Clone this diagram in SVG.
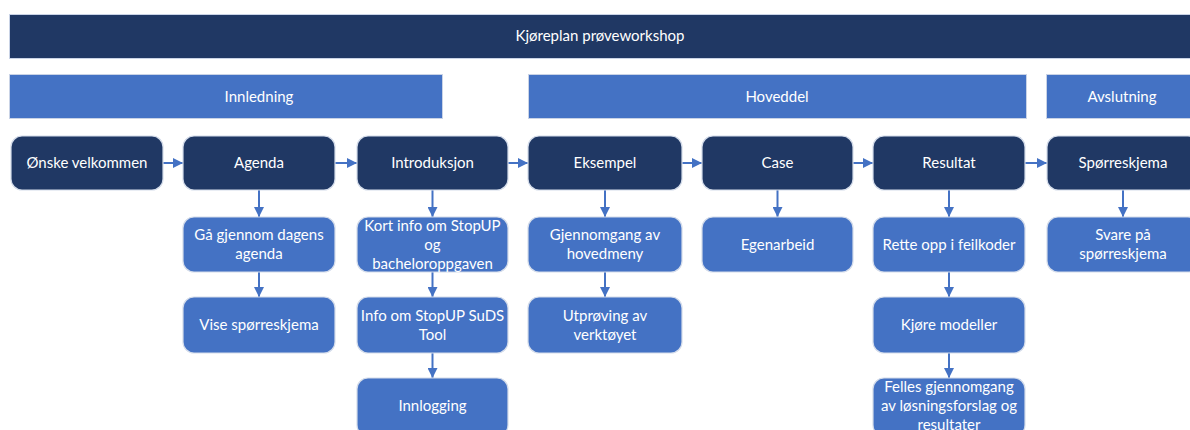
<svg xmlns="http://www.w3.org/2000/svg" width="1190" height="430" viewBox="0 0 1190 430">
<style>
  text { font-family: Lato, "Open Sans", "Liberation Sans", sans-serif; font-size: 15px; fill: #ffffff; text-anchor: middle; }
  .band { fill: #203864; stroke: #c9d3e6; stroke-width: 1; }
  .sec { fill: #4472c4; stroke: #c9d3e6; stroke-width: 1; }
  .dark { fill: #203864; stroke: #d4dcea; stroke-width: 1.2; }
  .light { fill: #4472c4; stroke: #d4dcea; stroke-width: 1.2; }
  .conn { stroke: #4472c4; stroke-width: 2; fill: none; marker-end: url(#arr); }
</style>
<defs>
  <marker id="arr" markerWidth="10" markerHeight="10" refX="10" refY="5" orient="auto" markerUnits="userSpaceOnUse">
    <path d="M0,0 L10,5 L0,10 Z" fill="#4472c4"/>
  </marker>
</defs>
<rect width="1190" height="430" fill="#ffffff"/>

<g id="title">
  <rect class="band" x="9.5" y="14.5" width="1190" height="44"/>
  <text x="600" y="41">Kjøreplan prøveworkshop</text>
</g>
<g id="innledning">
  <rect class="sec" x="9.5" y="74.5" width="433" height="44"/>
  <text x="259" y="101.5">Innledning</text>
</g>
<g id="hoveddel">
  <rect class="sec" x="528.5" y="74.5" width="498" height="44"/>
  <text x="777" y="101.5">Hoveddel</text>
</g>
<g id="avslutning">
  <rect class="sec" x="1046.5" y="74.5" width="160" height="44"/>
  <text x="1122" y="101.5">Avslutning</text>
</g>

<g id="connectors">
  <line class="conn" x1="163" y1="163" x2="183" y2="163"/>
  <line class="conn" x1="335" y1="163" x2="357" y2="163"/>
  <line class="conn" x1="508" y1="163" x2="528" y2="163"/>
  <line class="conn" x1="682" y1="163" x2="702" y2="163"/>
  <line class="conn" x1="853" y1="163" x2="873" y2="163"/>
  <line class="conn" x1="1025" y1="163" x2="1047" y2="163"/>

  <line class="conn" x1="259" y1="190" x2="259" y2="217"/>
  <line class="conn" x1="432.5" y1="190" x2="432.5" y2="217"/>
  <line class="conn" x1="605" y1="190" x2="605" y2="217"/>
  <line class="conn" x1="777.5" y1="190" x2="777.5" y2="217"/>
  <line class="conn" x1="949" y1="190" x2="949" y2="217"/>
  <line class="conn" x1="1123" y1="190" x2="1123" y2="217"/>

  <line class="conn" x1="259" y1="272" x2="259" y2="297"/>
  <line class="conn" x1="432.5" y1="272" x2="432.5" y2="297"/>
  <line class="conn" x1="605" y1="272" x2="605" y2="297"/>
  <line class="conn" x1="949" y1="272" x2="949" y2="297"/>

  <line class="conn" x1="432.5" y1="353" x2="432.5" y2="378"/>
  <line class="conn" x1="949" y1="353" x2="949" y2="378"/>
</g>

<g id="n-velkommen">
  <rect class="dark" x="11" y="136" width="152" height="54" rx="11"/>
  <text x="87" y="168">Ønske velkommen</text>
</g>
<g id="n-agenda">
  <rect class="dark" x="183" y="136" width="152" height="54" rx="11"/>
  <text x="259" y="168">Agenda</text>
</g>
<g id="n-introduksjon">
  <rect class="dark" x="357" y="136" width="151" height="54" rx="11"/>
  <text x="432.5" y="168">Introduksjon</text>
</g>
<g id="n-eksempel">
  <rect class="dark" x="528" y="136" width="154" height="54" rx="11"/>
  <text x="605" y="168">Eksempel</text>
</g>
<g id="n-case">
  <rect class="dark" x="702" y="136" width="151" height="54" rx="11"/>
  <text x="777.5" y="168">Case</text>
</g>
<g id="n-resultat">
  <rect class="dark" x="873" y="136" width="152" height="54" rx="11"/>
  <text x="949" y="168">Resultat</text>
</g>
<g id="n-sporreskjema">
  <rect class="dark" x="1047" y="136" width="152" height="54" rx="11"/>
  <text x="1123" y="168">Spørreskjema</text>
</g>

<g id="n-ga-gjennom">
  <rect class="light" x="183" y="217" width="152" height="55" rx="11"/>
  <text x="259" y="240">Gå gjennom dagens</text>
  <text x="259" y="259">agenda</text>
</g>
<g id="n-kort-info">
  <rect class="light" x="357" y="217" width="151" height="55" rx="11"/>
  <text x="432.5" y="230.5">Kort info om StopUP</text>
  <text x="432.5" y="249.5">og</text>
  <text x="432.5" y="268.5">bacheloroppgaven</text>
</g>
<g id="n-gjennomgang">
  <rect class="light" x="528" y="217" width="154" height="55" rx="11"/>
  <text x="605" y="240">Gjennomgang av</text>
  <text x="605" y="259">hovedmeny</text>
</g>
<g id="n-egenarbeid">
  <rect class="light" x="702" y="217" width="151" height="55" rx="11"/>
  <text x="777.5" y="249.5">Egenarbeid</text>
</g>
<g id="n-rette-opp">
  <rect class="light" x="873" y="217" width="152" height="55" rx="11"/>
  <text x="949" y="249.5">Rette opp i feilkoder</text>
</g>
<g id="n-svare">
  <rect class="light" x="1047" y="217" width="152" height="55" rx="11"/>
  <text x="1123" y="240">Svare på</text>
  <text x="1123" y="259">spørreskjema</text>
</g>

<g id="n-vise">
  <rect class="light" x="183" y="297" width="152" height="56" rx="11"/>
  <text x="259" y="330">Vise spørreskjema</text>
</g>
<g id="n-info-suds">
  <rect class="light" x="357" y="297" width="151" height="56" rx="11"/>
  <text x="432.5" y="320.5">Info om StopUP SuDS</text>
  <text x="432.5" y="339.5">Tool</text>
</g>
<g id="n-utproving">
  <rect class="light" x="528" y="297" width="154" height="56" rx="11"/>
  <text x="605" y="320.5">Utprøving av</text>
  <text x="605" y="339.5">verktøyet</text>
</g>
<g id="n-kjore">
  <rect class="light" x="873" y="297" width="152" height="56" rx="11"/>
  <text x="949" y="330">Kjøre modeller</text>
</g>

<g id="n-innlogging">
  <rect class="light" x="357" y="378" width="151" height="58" rx="11"/>
  <text x="432.5" y="411">Innlogging</text>
</g>
<g id="n-felles">
  <rect class="light" x="873" y="378" width="152" height="58" rx="11"/>
  <text x="949" y="392">Felles gjennomgang</text>
  <text x="949" y="411">av løsningsforslag og</text>
  <text x="949" y="430">resultater</text>
</g>
</svg>
